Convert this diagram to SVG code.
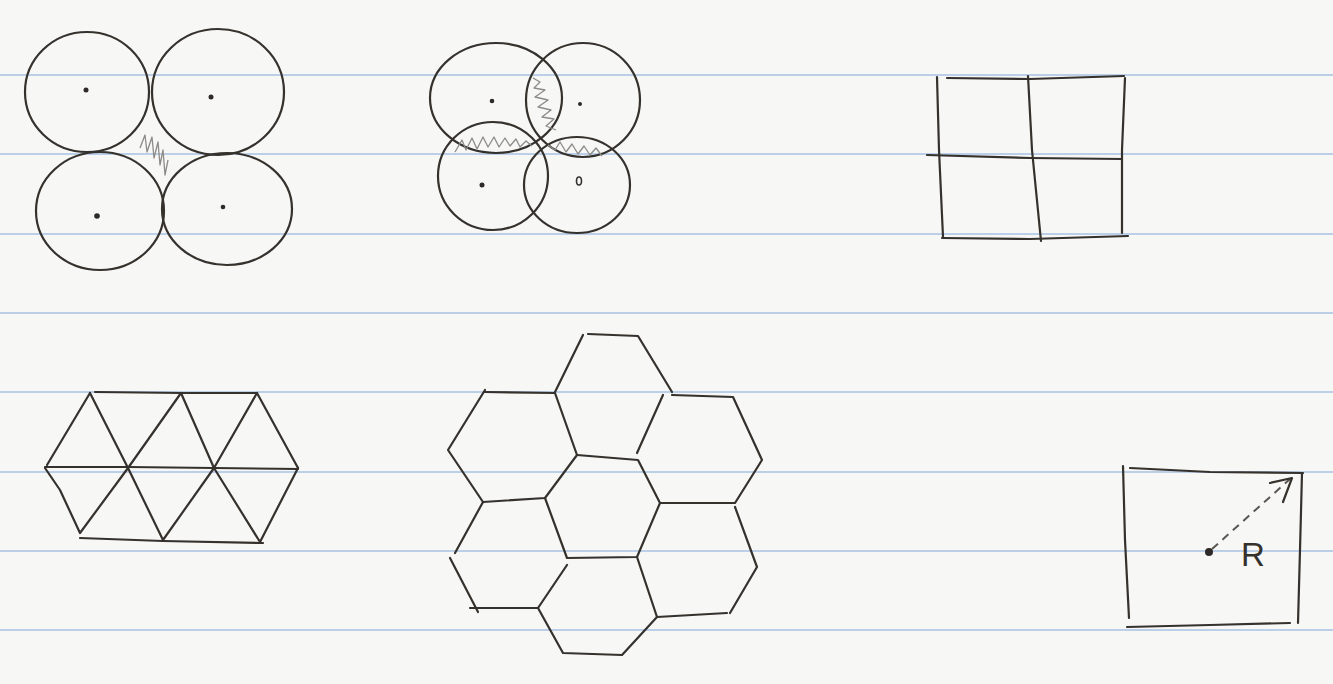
<svg xmlns="http://www.w3.org/2000/svg" width="1333" height="684" viewBox="0 0 1333 684">
<style>
.pen{fill:none;stroke:#35312d;stroke-width:2.2;stroke-linecap:round;stroke-linejoin:round}
.rule{stroke:#bccfe9;stroke-width:2}
.hatch{fill:none;stroke:#8d8b88;stroke-width:1.3;stroke-linejoin:round}
.dot{fill:#2e2a27}
</style>
<rect width="1333" height="684" fill="#f7f7f5"/>
<g id="paper-lines">
<line class="rule" x1="0" y1="75" x2="1333" y2="75"/>
<line class="rule" x1="0" y1="154" x2="1333" y2="154"/>
<line class="rule" x1="0" y1="234" x2="1333" y2="234"/>
<line class="rule" x1="0" y1="313" x2="1333" y2="313"/>
<line class="rule" x1="0" y1="392" x2="1333" y2="392"/>
<line class="rule" x1="0" y1="472" x2="1333" y2="472"/>
<line class="rule" x1="0" y1="551" x2="1333" y2="551"/>
<line class="rule" x1="0" y1="630" x2="1333" y2="630"/>
</g>
<g id="touching-circles">
<ellipse class="pen" cx="87" cy="92" rx="62" ry="60"/>
<ellipse class="pen" cx="218" cy="92" rx="66" ry="63"/>
<ellipse class="pen" cx="100" cy="211" rx="64" ry="59"/>
<ellipse class="pen" cx="227" cy="209" rx="65" ry="56"/>
<circle class="dot" cx="86" cy="90" r="2.5"/>
<circle class="dot" cx="211" cy="97" r="2.5"/>
<circle class="dot" cx="97" cy="216" r="2.8"/>
<circle class="dot" cx="223" cy="207" r="2.3"/>
<polyline class="hatch" points="140,148 145,135 147,152 152,137 154,158 158,142 160,165 163,150 165,175 168,160"/>
</g>
<g id="overlapping-circles">
<ellipse class="pen" cx="496" cy="98" rx="66" ry="55"/>
<ellipse class="pen" cx="583" cy="100" rx="57" ry="57"/>
<ellipse class="pen" cx="493" cy="176" rx="55" ry="54"/>
<ellipse class="pen" cx="577" cy="185" rx="53" ry="48"/>
<circle class="dot" cx="492" cy="101" r="2.3"/>
<circle class="dot" cx="580" cy="104" r="2"/>
<circle class="dot" cx="482" cy="185" r="2.5"/>
<ellipse cx="579" cy="181" rx="2.5" ry="4" fill="none" stroke="#35312d" stroke-width="1.6"/>
<polyline class="hatch" points="533,78 540,82 534,88 545,90 535,97 548,100 538,107 551,110 542,117 554,119 546,126 556,130"/>
<polyline class="hatch" points="455,152 462,140 466,150 472,138 477,149 483,137 488,147 494,137 499,147 505,138 510,146 516,139 520,147 526,141 532,146"/>
<polyline class="hatch" points="548,145 555,150 560,142 566,152 572,144 578,154 584,146 590,155 596,148 602,156"/>
</g>
<g id="square-grid">
<path class="pen" d="M937,77 L939,150 L943,237"/>
<path class="pen" d="M947,78 L1030,79 L1124,76"/>
<path class="pen" d="M1125,78 L1122,150 L1122,233"/>
<path class="pen" d="M942,238 L1030,239 L1128,236"/>
<path class="pen" d="M1028,76 L1032,150 L1041,241"/>
<path class="pen" d="M927,155 L1030,158 L1122,159"/>
</g>
<g id="triangle-mesh">
<path class="pen" d="M95,392 L181,393 L257,393"/>
<path class="pen" d="M45,467 L128,467 L214,468 L298,469"/>
<path class="pen" d="M80,538 L163,541 L263,543"/>
<path class="pen" d="M90,393 L47,465"/>
<path class="pen" d="M90,393 L128,468 L181,393 L214,468 L257,393 L298,468"/>
<path class="pen" d="M45,468 L60,490 L80,533 L128,468 L163,540 L214,468 L260,542 L298,468"/>
</g>
<g id="hexagon-mesh">
<path class="pen" d="M588,334 L638,336 L672,392"/>
<path class="pen" d="M583,335 L555,392"/>
<path class="pen" d="M485,392 L555,393 L577,455 L545,498 L483,502 L455,553"/>
<path class="pen" d="M485,390 L448,450 L483,502"/>
<path class="pen" d="M577,455 L638,460 L660,503 L637,557 L567,558 L545,498"/>
<path class="pen" d="M672,395 L733,397 L762,460 L735,503 L660,503"/>
<path class="pen" d="M663,395 L637,453"/>
<path class="pen" d="M735,507 L757,567 L730,613"/>
<path class="pen" d="M727,613 L657,617 L637,557"/>
<path class="pen" d="M450,558 L478,612"/>
<path class="pen" d="M470,608 L538,608 L567,565"/>
<path class="pen" d="M538,608 L563,653 L622,655 L657,617"/>
</g>
<g id="radius-square">
<path class="pen" d="M1123,466 L1125,540 L1129,618"/>
<path class="pen" d="M1130,468 L1210,472 L1303,473"/>
<path class="pen" d="M1302,473 L1300,550 L1298,623"/>
<path class="pen" d="M1127,627 L1210,625 L1290,623"/>
<circle class="dot" cx="1209" cy="552" r="4"/>
<line x1="1212" y1="549" x2="1290" y2="479" stroke="#5a5651" stroke-width="2" stroke-dasharray="8,6"/>
<path class="pen" d="M1270,483 L1292,478 L1283,502"/>
<text x="1241" y="566" font-family="'Liberation Sans', Arial, sans-serif" font-size="33" fill="#35312d">R</text>
</g>
</svg>
